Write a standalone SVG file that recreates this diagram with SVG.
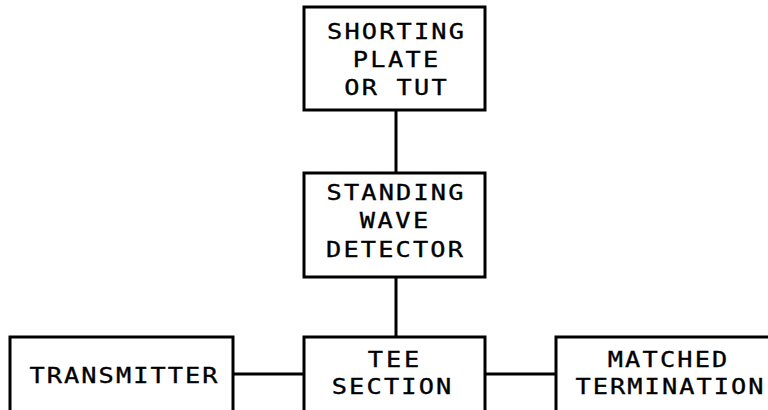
<svg xmlns="http://www.w3.org/2000/svg" width="768" height="410" viewBox="0 0 768 410">
<style>
.box{fill:#fff;stroke:#000;stroke-width:3}
.ln{stroke:#000;stroke-width:3;fill:none}
text{font-family:"DejaVu Sans Mono","Liberation Mono",monospace;font-size:22px;fill:#000;stroke:#000;stroke-width:0.35;text-anchor:middle}
</style>
<rect width="768" height="410" fill="#fff"/>
<g id="connectors">
<line class="ln" x1="396" y1="110" x2="396" y2="173"/>
<line class="ln" x1="396" y1="277" x2="396" y2="337"/>
<line class="ln" x1="233" y1="374" x2="304" y2="374"/>
<line class="ln" x1="485" y1="374" x2="556" y2="374"/>
</g>
<g id="shorting-plate">
<rect class="box" x="304" y="7" width="181" height="103"/>
<text transform="translate(395.5 39) scale(1.15 1)" textLength="119" lengthAdjust="spacing">SHORTING</text>
<text transform="translate(395.5 67) scale(1.15 1)" textLength="74.3" lengthAdjust="spacing">PLATE</text>
<text transform="translate(395.5 95) scale(1.15 1)" textLength="89.2" lengthAdjust="spacing">OR TUT</text>
</g>
<g id="standing-wave-detector">
<rect class="box" x="304" y="173" width="181" height="104"/>
<text transform="translate(395 200) scale(1.15 1)" textLength="119" lengthAdjust="spacing">STANDING</text>
<text transform="translate(394 228) scale(1.15 1)" textLength="59.5" lengthAdjust="spacing">WAVE</text>
<text transform="translate(394.5 257) scale(1.15 1)" textLength="119" lengthAdjust="spacing">DETECTOR</text>
</g>
<g id="transmitter">
<rect class="box" x="10" y="337" width="223" height="90"/>
<text transform="translate(123.5 383) scale(1.15 1)" textLength="163.5" lengthAdjust="spacing">TRANSMITTER</text>
</g>
<g id="tee-section">
<rect class="box" x="304" y="337" width="181" height="90"/>
<text transform="translate(393.5 367) scale(1.15 1)" textLength="44.6" lengthAdjust="spacing">TEE</text>
<text transform="translate(391.5 394) scale(1.15 1)" textLength="104.1" lengthAdjust="spacing">SECTION</text>
</g>
<g id="matched-termination">
<rect class="box" x="556" y="337" width="230" height="90"/>
<text transform="translate(667.5 367) scale(1.15 1)" textLength="104.1" lengthAdjust="spacing">MATCHED</text>
<text transform="translate(669.5 394) scale(1.15 1)" textLength="163.5" lengthAdjust="spacing">TERMINATION</text>
</g>
</svg>
